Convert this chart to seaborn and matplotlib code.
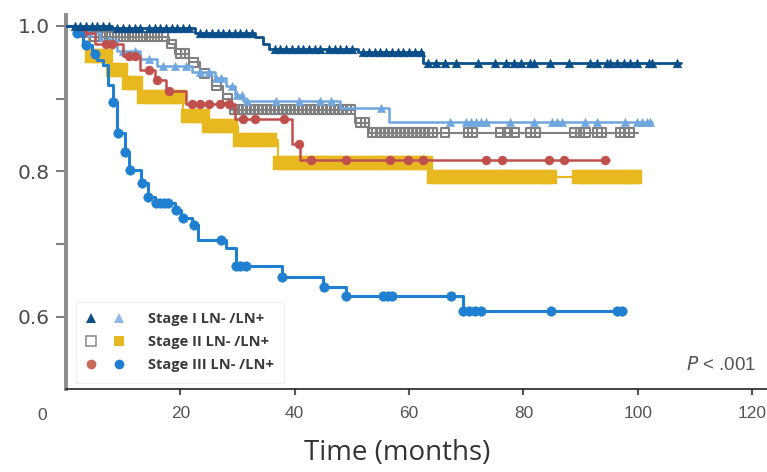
import numpy as np
import pandas as pd
import seaborn as sns
import matplotlib.pyplot as plt
from matplotlib.lines import Line2D
from matplotlib.legend_handler import HandlerTuple

# Kaplan-Meier curves:
# step times (months), survival after each step, censor marks (months)
s1n_t = [0, 8, 22.5, 33, 34.5, 35.5, 51, 62.5, 107.5]
s1n_s = [1.0, 0.997, 0.99, 0.985, 0.975, 0.968, 0.964, 0.949, 0.949]
s1n_c = [1.5, 2.5, 3.5, 4.5, 5.5, 6.5, 7.5, 9, 10, 11, 12, 13, 14.5, 15.5, 16.5, 17.5,
         18.5, 19.5, 20.5, 21.5, 23.5, 24.5, 25.5, 26.5, 27.5, 28.5, 29.5, 30.5, 31.5,
         32.5, 36.5, 37.5, 38.5, 39.5, 40.5, 41.5, 42.5, 43.5, 44.5, 46, 47, 48, 49, 50,
         52, 53, 54, 55, 56, 57, 58, 59, 60, 61, 62, 63.3, 64.7, 66.3, 68.2, 72, 75.1,
         76.9, 78.4, 79.5, 81.2, 81.9, 84.7, 88, 91.7, 92.9, 94.6, 95.1, 96.3, 97.6,
         98.6, 99.8, 101.9, 102.4, 106.8]

s1p_t = [0, 3, 6, 9, 13, 16, 22, 26, 28, 29.5, 31, 48, 56.5, 102.5]
s1p_s = [1.0, 0.99, 0.98, 0.965, 0.955, 0.945, 0.937, 0.928, 0.918, 0.905, 0.897,
         0.887, 0.868, 0.868]
s1p_c = [4, 7.5, 10, 12, 14.5, 17, 19, 21, 23.5, 25, 26.3, 27.1, 29, 29.9, 30.8, 31.7,
         36.7, 40.7, 44.5, 46.3, 55.1, 67.1, 69.9, 70.8, 71.7, 72.5, 73.4, 77.7, 81.9,
         85, 85.9, 86.8, 90.8, 92.9, 97.7, 99.8, 100.7, 101.6, 102.1]

s2n_t = [0, 2, 4, 18, 19, 21.5, 23.5, 25.5, 27.5, 29, 50.5, 53, 100]
s2n_s = [1.0, 0.992, 0.985, 0.975, 0.962, 0.95, 0.935, 0.918, 0.9, 0.885, 0.867,
         0.853, 0.853]
s2n_c = [5, 6, 7, 8, 9, 10, 11, 12, 13, 14, 15, 16, 17, 18.5, 20, 20.8, 22.3, 24.2,
         26.3, 28.2, 29.5, 30.2, 30.9, 31.6, 32.3, 33, 33.7, 34.4, 35.1, 35.8, 36.5,
         37.2, 37.9, 38.6, 39.3, 40, 40.7, 41.4, 42.1, 42.8, 43.5, 44.2, 44.9, 45.6,
         46.3, 47, 47.7, 48.4, 49.1, 49.8, 51.5, 52.3, 53.6, 54.3, 55, 55.7, 56.4, 57.1,
         57.8, 58.5, 59.2, 59.9, 60.6, 61.3, 62, 62.7, 63.4, 64.1, 66.3, 70.3, 71.1, 76,
         77.2, 78.4, 81.2, 82.1, 89, 89.9, 90.8, 92.9, 93.7, 96.9, 97.7, 98.6]

s2p_t = [0, 2.5, 4, 7.5, 10.5, 13, 20.5, 24.5, 30, 37, 63.5, 100.5]
s2p_s = [1.0, 0.985, 0.958, 0.94, 0.922, 0.902, 0.876, 0.862, 0.843, 0.811, 0.792, 0.792]
s2p_c = [4.5, 5.8, 7, 8.3, 9.6, 11, 12.3, 13.6, 14.9, 16.2, 17.5, 18.8, 20, 21.3, 22.6,
         23.9, 25, 26.3, 27.6, 28.9, 30.5, 31.8, 33.1, 34.4, 35.7, 37.5, 38.8, 40.1,
         41.4, 42.7, 44, 45.3, 46.6, 47.9, 49.2, 50.5, 51.8, 53.1, 54.4, 55.7, 57, 58.3,
         59.6, 60.9, 62.2, 63, 64.3, 65.6, 66.9, 68.2, 69.5, 70.8, 72.1, 73.4, 74.7, 76,
         77.3, 78.6, 79.9, 81.2, 82.5, 83.8, 84.6, 89.7, 91, 92.3, 93.6, 94.9, 96.2,
         97.5, 98.8, 99.6]

s3n_t = [0, 2, 5, 10, 13, 15.5, 17.5, 21, 29.5, 39.5, 41, 95]
s3n_s = [1.0, 0.99, 0.975, 0.958, 0.94, 0.925, 0.91, 0.892, 0.872, 0.838, 0.816, 0.816]
s3n_c = [3, 7, 8, 11, 12, 14.5, 16, 18, 22, 23.5, 25, 27, 28.5, 31, 33, 38.2, 40.7,
         42.8, 48.9, 56.7, 59.8, 62.4, 73.4, 76.3, 84.5, 87.1, 94.3]

s3p_t = [0, 1.5, 3, 4.5, 5.5, 6.5, 7.3, 8.2, 9.0, 10.3, 11.1, 13.2, 14.3, 15.5, 19.0,
         20.2, 22.1, 23.0, 28.0, 29.7, 37.7, 45.0, 48.9, 69.4, 97.2]
s3p_s = [1.0, 0.99, 0.974, 0.962, 0.953, 0.946, 0.919, 0.896, 0.853, 0.827, 0.802,
         0.784, 0.765, 0.757, 0.747, 0.736, 0.726, 0.706, 0.695, 0.670, 0.655, 0.641,
         0.629, 0.608, 0.608]
s3p_c = [2, 3.5, 5, 8.3, 9.1, 10.4, 11.2, 13.3, 14.4, 15.8, 16.5, 17.2, 17.8, 19.2,
         20.4, 22.3, 27.1, 29.8, 30.5, 31.5, 37.8, 45.2, 49, 55.5, 56.3, 57.1, 67.3,
         69.5, 70.5, 71.5, 72.5, 84.8, 96.4, 97.2]

legend_labels = ["Stage I LN- /LN+", "Stage II LN- /LN+", "Stage III LN- /LN+"]

# drawing order bottom -> top
groups = [
    # name, times, surv, censor, color, marker, size, open, lw
    ("II LN+", s2p_t, s2p_s, s2p_c, "#e8b820", "s", 88, False, 1.5),
    ("II LN-", s2n_t, s2n_s, s2n_c, "#808080", "s", 40, True, 1.5),
    ("I LN+", s1p_t, s1p_s, s1p_c, "#6fa6df", "^", 36, False, 1.8),
    ("III LN-", s3n_t, s3n_s, s3n_c, "#c0504d", "o", 42, False, 1.8),
    ("III LN+", s3p_t, s3p_s, s3p_c, "#1f7fd0", "o", 48, False, 2.2),
    ("I LN-", s1n_t, s1n_s, s1n_c, "#0b4f8a", "^", 40, False, 2.0),
]

sns.set_theme(style="white")
plt.rcParams["font.family"] = ["Liberation Sans", "DejaVu Sans"]

fig = plt.figure(figsize=(7.67, 4.72), dpi=100)
ax = fig.add_axes([66 / 767, 83 / 472, 701 / 767, 374 / 472])

for z, (name, t, s, c, col, mk, sz, hollow, lw) in enumerate(groups):
    curve = pd.DataFrame({"time": t, "surv": s})
    idx = np.searchsorted(t, c, side="right") - 1
    marks = pd.DataFrame({"time": c, "surv": np.array(s)[idx]})
    sns.lineplot(data=curve, x="time", y="surv", drawstyle="steps-post", color=col,
                 lw=lw, estimator=None, sort=False, ax=ax, zorder=2 + z)
    sns.scatterplot(data=marks, x="time", y="surv", marker=mk, s=sz, color=col,
                    edgecolor=col, linewidth=1.5 if hollow else 0.3, ax=ax,
                    zorder=2 + z, legend=False)
    if hollow:
        ax.collections[-1].set_facecolor("none")

ax.set_xlim(0, 122.6)
ax.set_ylim(0.501, 1.015)
ax.set_xticks([20, 40, 60, 80, 100, 120])
ax.set_yticks([0.6, 0.7, 0.8, 0.9, 1.0])
ax.set_yticklabels(["0.6", "", "0.8", "", "1.0"])
ax.tick_params(axis="y", length=7, width=1.5, color="#808080", labelcolor="#4a4a4a",
               pad=4.5, left=True)
ax.tick_params(axis="x", length=4, width=1.5, color="#555555", labelsize=12.5,
               labelcolor="#555555", pad=8, bottom=True)
for lab in ax.get_yticklabels():
    lab.set_family("DejaVu Sans")
    lab.set_fontsize(14.5)
for side in ["top", "right"]:
    ax.spines[side].set_visible(False)
ax.spines["left"].set_color("#8c8c8c")
ax.spines["left"].set_linewidth(2.8)
ax.spines["bottom"].set_color("#222222")
ax.spines["bottom"].set_linewidth(1.2)
ax.set_ylabel("")
ax.set_xlabel("Time (months)", family="Open Sans", fontsize=20, color="#333333")
ax.xaxis.set_label_coords(0.472, -0.135)
ax.text(-4.2, -0.05, "0", transform=ax.get_xaxis_transform(), ha="center",
        va="top", fontsize=12.5, color="#555555")
ax.text(0.985, 0.063, r"$\mathit{P}$ < .001", transform=ax.transAxes, ha="right",
        va="center", fontsize=13.5, color="#555555")

# legend with paired markers per stage
def mk(m, c, hollow=False, ms=7):
    return Line2D([], [], ls="", marker=m, ms=ms, color=c,
                  mfc="none" if hollow else c, mec=c, mew=1.2 if hollow else 0)

handles = [
    (mk("^", "#0b4f8a"), mk("^", "#8fb8e8")),
    (mk("s", "#909090", True), mk("s", "#e8b820")),
    (mk("o", "#c96a5a"), mk("o", "#1f7fd0")),
]
leg = ax.legend(handles, legend_labels, handler_map={tuple: HandlerTuple(ndivide=None, pad=1.2)},
                loc="upper left", bbox_to_anchor=(0.004, 0.252), frameon=True,
                fancybox=False, handlelength=2.6, handletextpad=1.6,
                labelspacing=0.62, borderpad=0.7,
                prop={"family": "Open Sans", "size": 10.5, "weight": "bold"})
leg.get_frame().set_edgecolor("#ececec")
leg.get_frame().set_linewidth(0.8)
for txt in leg.get_texts():
    txt.set_color("#3a3a3a")

fig.savefig("out.png", dpi=100)
